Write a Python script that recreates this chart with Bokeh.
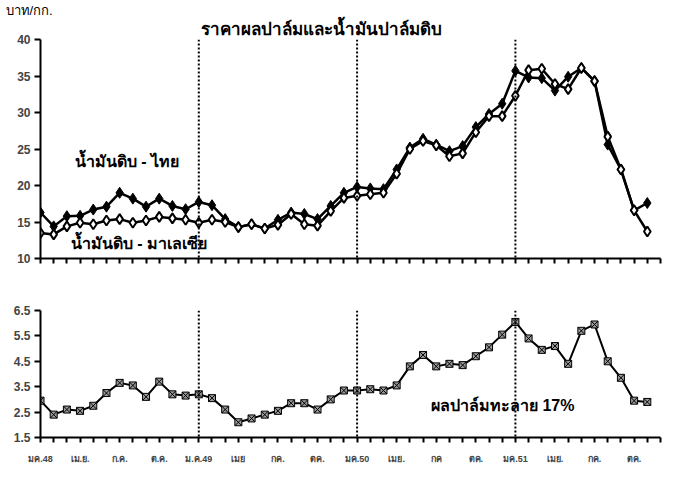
from bokeh.plotting import figure
from bokeh.layouts import column
from bokeh.models import FixedTicker, Span, Label, Range1d, Title
from bokeh.embed import file_html
from bokeh.resources import INLINE

# ---- data ----
months = list(range(47))           # ม.ค.48 ... พ.ย.51
tick_positions = list(range(48))
quarter_labels = ["มค.48", "เม.ย.", "ก.ค.", "ต.ค.", "ม.ค.49", "เมย", "กค.", "ตค.",
                  "มค.50", "เมย.", "กค", "ตค.", "มค.51", "เมย.", "กค.", "ตค."]
year_starts = [12, 24, 36]

thai_cpo = [16.3, 14.4, 15.8, 15.85, 16.7, 17.1, 19.0, 18.2, 17.1, 18.2,
            17.2, 16.75, 17.75, 17.3, 15.4, 14.3, 14.7, 14.1, 15.3, 16.3,
            16.1, 15.4, 17.2, 19.0, 19.8, 19.6, 19.5, 22.2, 25.2, 26.4,
            25.6, 24.7, 25.4, 28.0, 29.8, 31.2, 35.7, 34.8, 34.7, 33.0,
            34.9, 36.1, 34.3, 25.6, 22.2, 16.6, 17.6]
malay_cpo = [13.5, 13.3, 14.4, 14.9, 14.7, 15.2, 15.4, 14.9, 15.2, 15.7,
             15.5, 15.3, 14.9, 15.3, 15.0, 14.3, 14.7, 14.1, 14.6, 16.1,
             14.7, 14.5, 16.5, 18.3, 18.6, 18.8, 19.0, 21.6, 25.0, 26.1,
             25.5, 24.0, 24.4, 27.3, 29.5, 29.5, 32.3, 35.8, 36.0, 33.9,
             33.2, 36.1, 34.3, 26.7, 22.2, 16.6, 13.7]
fruit_17 = [2.95, 2.4, 2.6, 2.55, 2.75, 3.25, 3.65, 3.55, 3.1, 3.7,
            3.2, 3.15, 3.2, 3.05, 2.6, 2.1, 2.25, 2.4, 2.55, 2.85,
            2.85, 2.6, 3.0, 3.35, 3.35, 3.4, 3.35, 3.55, 4.3, 4.75,
            4.3, 4.4, 4.35, 4.7, 5.05, 5.55, 6.05, 5.4, 4.95, 5.1,
            4.4, 5.7, 5.95, 4.5, 3.85, 2.95, 2.9]

top_ticks = [10, 15, 20, 25, 30, 35, 40]
bottom_ticks = [1.5, 2.5, 3.5, 4.5, 5.5, 6.5]

FONT = "Liberation Sans"

def style(p, yticks, show_xlabels):
    p.xgrid.visible = False
    p.ygrid.visible = False
    p.outline_line_color = None
    p.background_fill_color = "white"
    p.border_fill_color = "white"
    for ax in (p.xaxis[0], p.yaxis[0]):
        ax.axis_line_width = 2
        ax.axis_line_color = "black"
        ax.major_tick_line_width = 2
        ax.major_tick_line_color = "black"
        ax.minor_tick_line_color = None
        ax.major_tick_in = 0
    p.yaxis.ticker = FixedTicker(ticks=yticks)
    p.yaxis.major_tick_out = 6
    p.yaxis.major_label_text_font = FONT
    p.yaxis.major_label_text_font_style = "bold"
    p.yaxis.major_label_text_font_size = "12px"
    p.yaxis.major_label_standoff = 4
    p.xaxis.ticker = FixedTicker(ticks=tick_positions)
    p.xaxis.major_tick_out = 5
    overrides = {}
    for t in tick_positions:
        if show_xlabels and t % 3 == 0 and t // 3 < len(quarter_labels):
            overrides[t] = quarter_labels[t // 3]
        else:
            overrides[t] = ""
    p.xaxis.major_label_overrides = overrides
    p.xaxis.major_label_text_font = FONT
    p.xaxis.major_label_text_font_style = "bold"
    p.xaxis.major_label_text_font_size = "9px" if show_xlabels else "1px"
    p.xaxis.major_label_standoff = 11
    for m in year_starts:
        p.add_layout(Span(location=m, dimension="height", line_color="black",
                          line_width=2, line_dash="2 2"))

# ---- top panel ----
p1 = figure(width=670, height=278, x_range=Range1d(0, 47), y_range=Range1d(10, 40),
            output_backend="svg", toolbar_location=None,
            min_border_left=40, min_border_right=10, min_border_top=37, min_border_bottom=20)
style(p1, top_ticks, False)

# unit text (outer row)
p1.title.text = "บาท/กก."
p1.title.align = "left"
p1.title.offset = -35
p1.title.text_font_size = "13px"
p1.title.text_font_style = "normal"
p1.title.text_color = "black"
p1.title.standoff = 0
# main title (row closest to the plot)
p1.add_layout(Title(text="ราคาผลปาล์มและน้ำมันปาล์มดิบ", align="left", offset=160,
                    standoff=1, text_font_size="17px", text_font_style="bold",
                    text_color="black"), "above")

p1.line(months, thai_cpo, line_color="black", line_width=2.5)
p1.scatter(months, thai_cpo, marker="diamond", size=11, fill_color="black",
           line_color="black", line_width=1)
p1.line(months, malay_cpo, line_color="black", line_width=2.5)
p1.scatter(months, malay_cpo, marker="diamond", size=10, fill_color="white",
           line_color="black", line_width=2)

p1.add_layout(Label(x=2.6, y=23.3, text="น้ำมันดิบ - ไทย", text_align="left",
                    text_baseline="middle", text_font_size="16px",
                    text_font_style="bold", text_color="black"))
p1.add_layout(Label(x=2.3, y=12.0, text="น้ำมันดิบ - มาเลเซีย", text_align="left",
                    text_baseline="middle", text_font_size="16px",
                    text_font_style="bold", text_color="black"))

# ---- bottom panel ----
p2 = figure(width=670, height=191, x_range=p1.x_range, y_range=Range1d(1.5, 6.5),
            output_backend="svg", toolbar_location=None,
            min_border_left=40, min_border_right=10, min_border_top=32, min_border_bottom=32)
style(p2, bottom_ticks, True)

p2.line(months, fruit_17, line_color="black", line_width=2)
p2.scatter(months, fruit_17, marker="square_x", size=7, fill_color="#9a9a9a",
           line_color="black", line_width=1)
p2.add_layout(Label(x=29.6, y=2.75, text="ผลปาล์มทะลาย 17%", text_align="left",
                    text_baseline="middle", text_font_size="16px",
                    text_font_style="bold", text_color="black"))

layout = column(p1, p2, spacing=0)
open("out.html", "w").write(file_html(layout, INLINE))
